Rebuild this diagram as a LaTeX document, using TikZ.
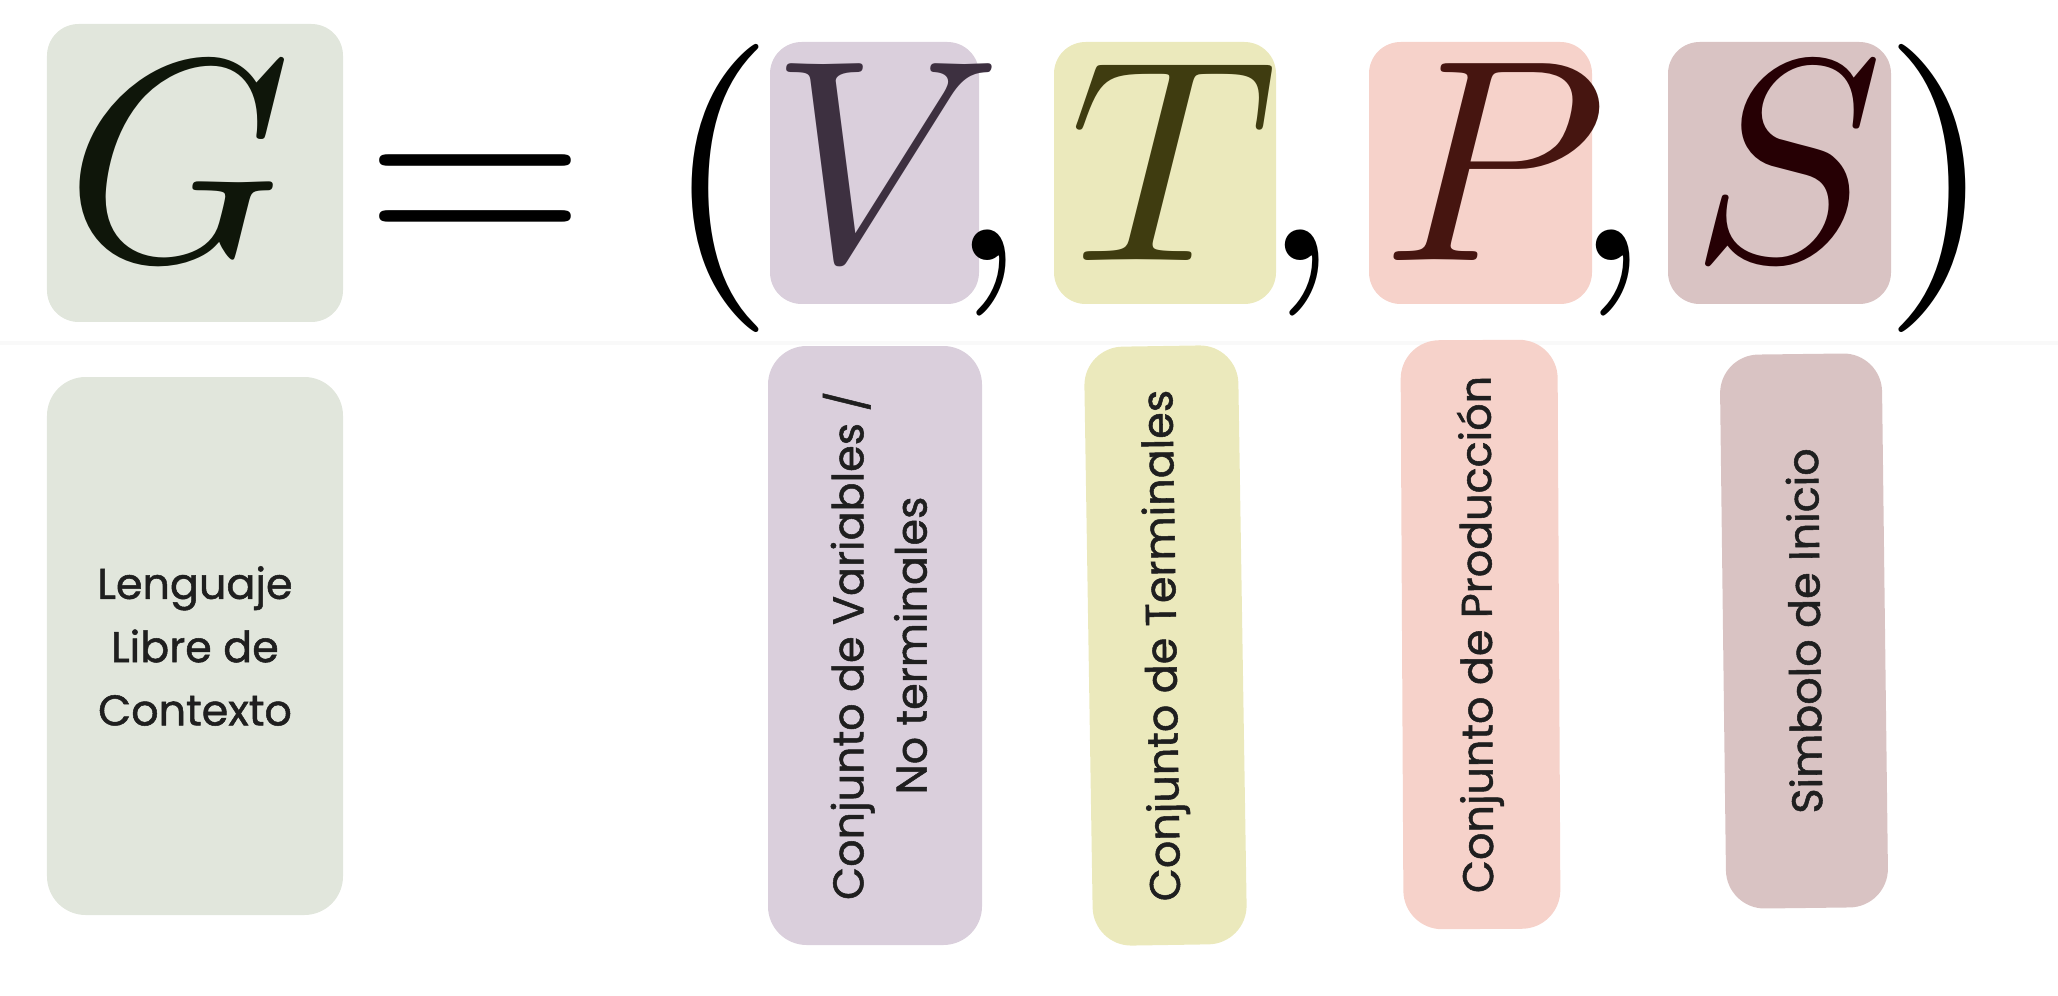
\RequirePackage{fix-cm}
\documentclass[tikz,border=0pt]{standalone}
\usepackage[no-math]{fontspec}
\newfontfamily\labelfont{Poppins}[FakeBold=1.2]
\usetikzlibrary{positioning}

% big symbols drawn from the 10pt designs
\DeclareFontShape{OML}{cmm}{m}{it}{<->cmmi10}{}
\DeclareFontShape{OT1}{cmr}{m}{n}{<->cmr10}{}

\definecolor{gfill}{HTML}{E1E6DC}
\definecolor{vfill}{HTML}{DACFDC}
\definecolor{tfill}{HTML}{EBE9BC}
\definecolor{pfill}{HTML}{F6D2CA}
\definecolor{sfill}{HTML}{D9C3C3}
\definecolor{gletter}{HTML}{0F160A}
\definecolor{vletter}{HTML}{3D3040}
\definecolor{tletter}{HTML}{3F3C10}
\definecolor{pletter}{HTML}{461510}
\definecolor{sletter}{HTML}{260004}

\begin{document}
\begin{tikzpicture}[
    % Box behind a letter
    letterbox/.style={
        rectangle,
        rounded corners=9pt,
        minimum height=2.62cm
    },
    % Box with a description
    notebox/.style={
        rectangle,
        rounded corners=11pt,
        align=center,
        font=\labelfont\fontsize{12.2}{18}\selectfont,
        text=black!88
    },
    % Big math symbol
    sym/.style={
        anchor=base,
        inner sep=0pt,
        font=\fontsize{82}{90}\selectfont
    }
]

\useasboundingbox (0,0) rectangle (20.58,-9.96);

% === Faint rule ===
\draw[black!2.5, line width=1pt] (0,-3.43) -- (20.58,-3.43);

% === Boxes behind the letters ===
\node[letterbox, fill=gfill, minimum width=2.96cm, minimum height=2.98cm] (gbox) at (1.95, -1.73) {};
\node[letterbox, fill=vfill, minimum width=2.09cm] (vbox) at (8.745, -1.73) {};
\node[letterbox, fill=tfill, minimum width=2.22cm] (tbox) at (11.65, -1.73) {};
\node[letterbox, fill=pfill, minimum width=2.23cm] (pbox) at (14.805, -1.73) {};
\node[letterbox, fill=sfill, minimum width=2.23cm] (sbox) at (17.795, -1.73) {};

% === G = (V, T, P, S) ===
\node[sym, text=gletter] (gsym) at (1.79, -2.60) {$G$};
\node[sym] (eq) at (4.76, -2.60) {$=$};
\node[sym] (lpar) at (7.20, -2.60) {$($};
\node[sym, text=vletter] (vsym) at (8.87, -2.60) {$V$};
\node[sym] (comma1) at (9.88, -2.60) {$,$};
\node[sym, text=tletter] (tsym) at (11.735, -2.60) {$T$};
\node[sym] (comma2) at (13.01, -2.60) {$,$};
\node[sym, text=pletter] (psym) at (14.95, -2.60) {$P$};
\node[sym] (comma3) at (16.12, -2.60) {$,$};
\node[sym, text=sletter] (ssym) at (17.87, -2.60) {$S$};
\node[sym] (rpar) at (19.39, -2.60) {$)$};

% === Descriptions ===
\node[notebox, fill=gfill, minimum width=2.96cm, minimum height=5.38cm] (lenguaje) at (1.95, -6.46) {Lenguaje\\Libre de\\Contexto};
\node[notebox, fill=vfill, rotate=90, minimum width=5.99cm, minimum height=2.14cm] (variables) at (8.75, -6.455) {Conjunto de Variables /\\No terminales};
\node[notebox, fill=tfill, rotate=90.9, minimum width=5.99cm, minimum height=1.54cm] (terminales) at (11.655, -6.455) {Conjunto de Terminales};
\node[notebox, fill=pfill, rotate=90.3, minimum width=5.89cm, minimum height=1.57cm] (produccion) at (14.805, -6.345) {Conjunto de Producción};
\node[notebox, fill=sfill, rotate=90.7, minimum width=5.54cm, minimum height=1.62cm] (inicio) at (18.04, -6.31) {Simbolo de Inicio};

\end{tikzpicture}
\end{document}
